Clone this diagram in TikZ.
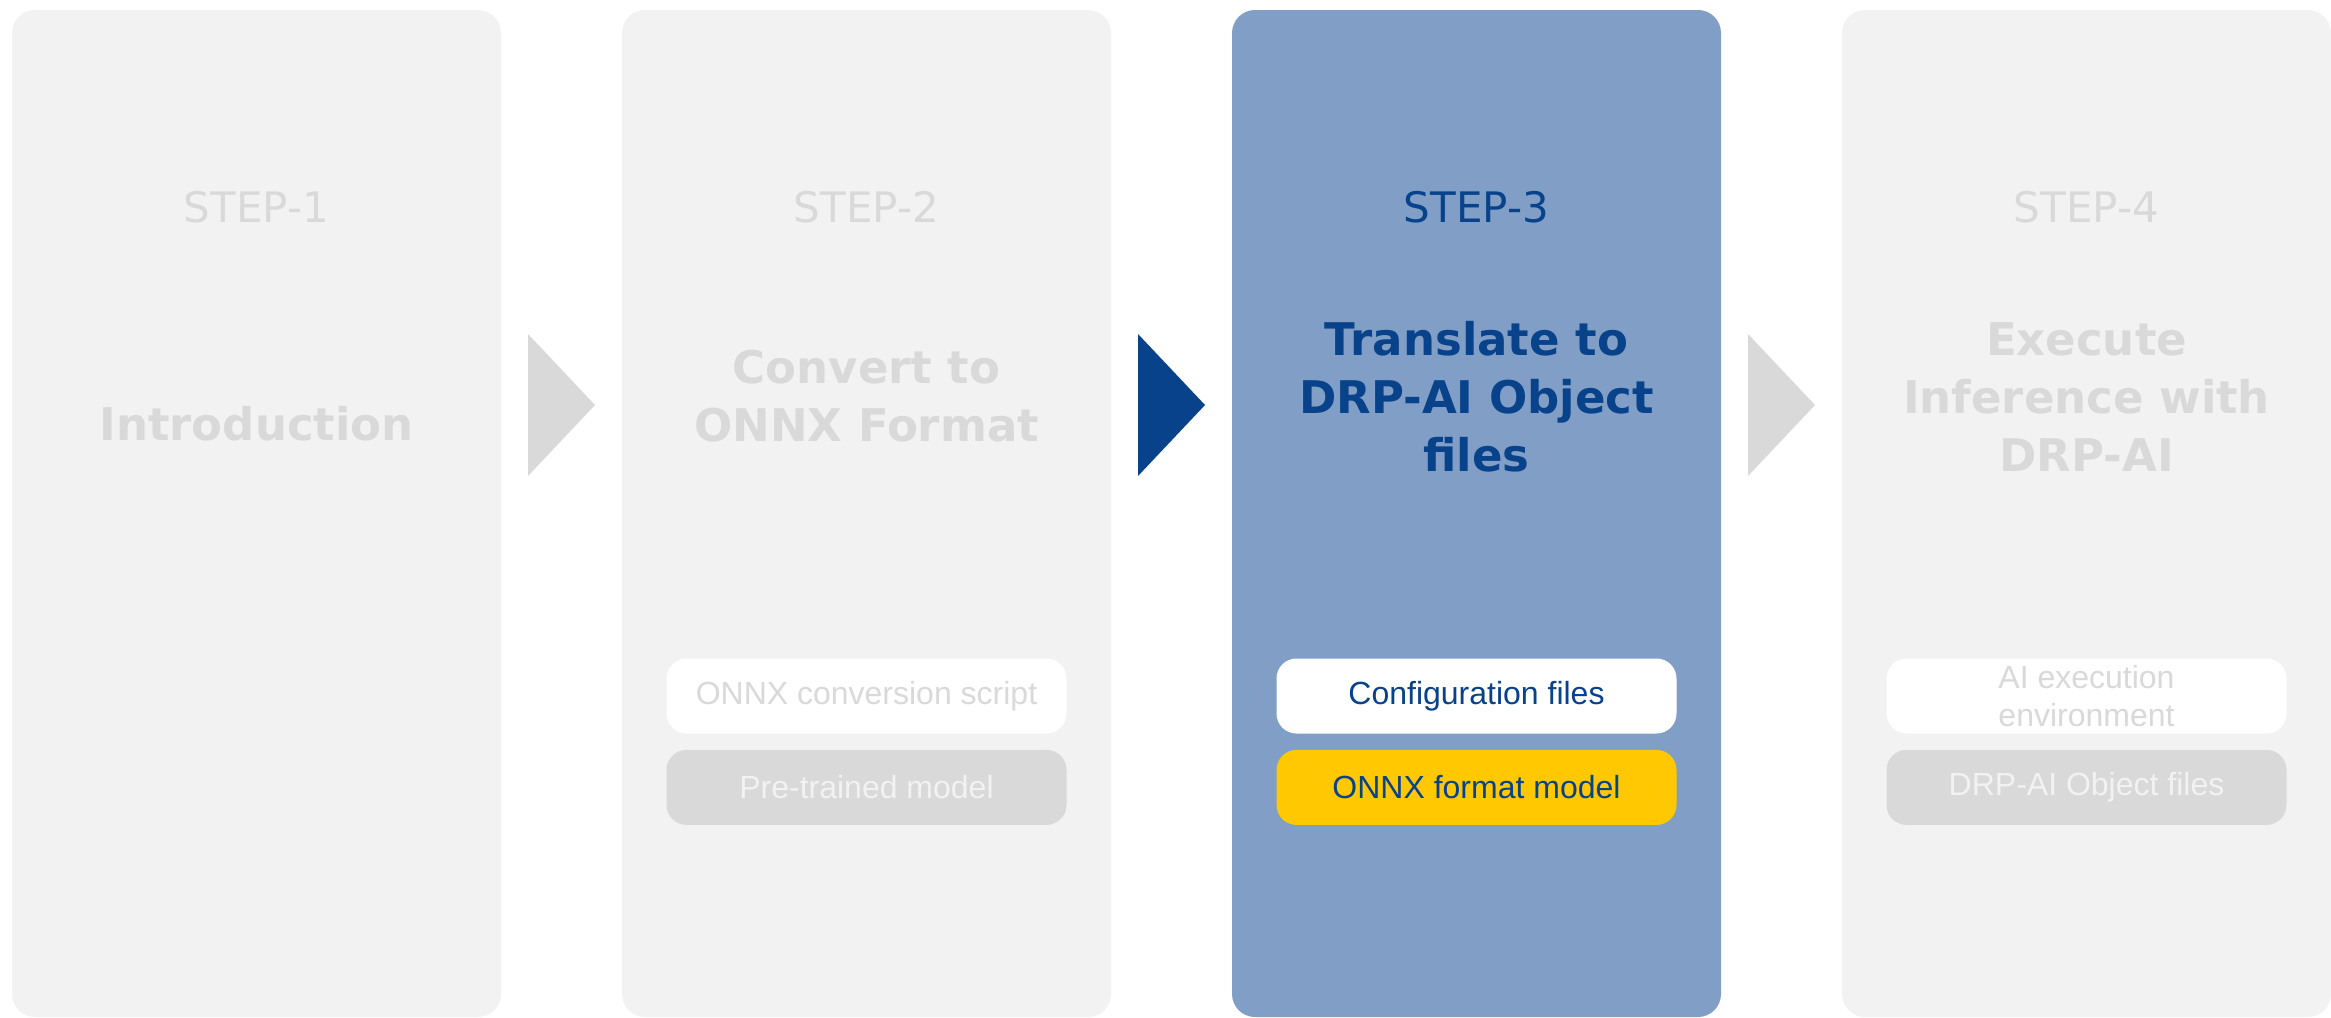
\documentclass[tikz,border=0pt]{standalone}
\usepackage{fontspec}
\setmainfont{DejaVu Sans}
\newfontfamily\arialfont{Liberation Sans}
\usetikzlibrary{positioning}
\definecolor{panelgrey}{HTML}{F2F2F2}
\definecolor{fadegrey}{HTML}{D9D9D9}
\definecolor{panelblue}{HTML}{819FC6}
\definecolor{darkblue}{HTML}{07428B}
\definecolor{gold}{HTML}{FFC800}

\begin{document}
\begin{tikzpicture}[x=1pt, y=-1pt,
  panel/.style={rectangle, rounded corners=23pt, minimum width=489pt, minimum height=1007pt, inner sep=0pt},
  steplbl/.style={font=\fontsize{42}{50}\selectfont},
  title/.style={font=\fontsize{45}{58}\selectfont\bfseries, align=center},
  item/.style={rectangle, rounded corners=20pt, minimum width=400pt, minimum height=75pt, inner sep=0pt, align=center, font=\arialfont\fontsize{32}{38}\selectfont}]
\useasboundingbox (0,0) rectangle (2331,1017);

\node[panel, fill=panelgrey](p1) at (256.5,513.5){};
\node[panel, fill=panelgrey](p2) at (866.5,513.5){};
\node[panel, fill=panelblue](p3) at (1476.5,513.5){};
\node[panel, fill=panelgrey](p4) at (2086.5,513.5){};

\fill[fadegrey] (528,334) -- (595,405) -- (528,476) -- cycle;
\fill[darkblue] (1138,334) -- (1205,405) -- (1138,476) -- cycle;
\fill[fadegrey] (1748,334) -- (1815,405) -- (1748,476) -- cycle;

\node[steplbl, text=fadegrey](s1) at (256.5,207){STEP-1};
\node[steplbl, text=fadegrey](s2) at (866.5,207){STEP-2};
\node[steplbl, text=darkblue](s3) at (1476.5,207){STEP-3};
\node[steplbl, text=fadegrey](s4) at (2086.5,207){STEP-4};

\node[title, text=fadegrey](t1) at (256.5,424){Introduction};
\node[title, text=fadegrey](t2) at (866.5,396){Convert to\\ONNX Format};
\node[title, text=darkblue](t3) at (1476.5,397){Translate to\\DRP-AI Object\\files};
\node[title, text=fadegrey](t4) at (2086.5,397){Execute\\Inference with\\DRP-AI};

\node[item, fill=white, text=fadegrey](a2) at (866.5,696){ONNX conversion script};
\node[item, fill=fadegrey, text=panelgrey, below=16pt of a2](b2){Pre-trained model};
\node[item, fill=white, text=darkblue](a3) at (1476.5,696){Configuration files};
\node[item, fill=gold, text=darkblue, below=16pt of a3](b3){ONNX format model};
\node[item, fill=white, text=fadegrey](a4) at (2086.5,696){AI execution\\environment};
\node[item, fill=fadegrey, text=panelgrey, below=16pt of a4](b4){DRP-AI Object files};
\end{tikzpicture}
\end{document}
